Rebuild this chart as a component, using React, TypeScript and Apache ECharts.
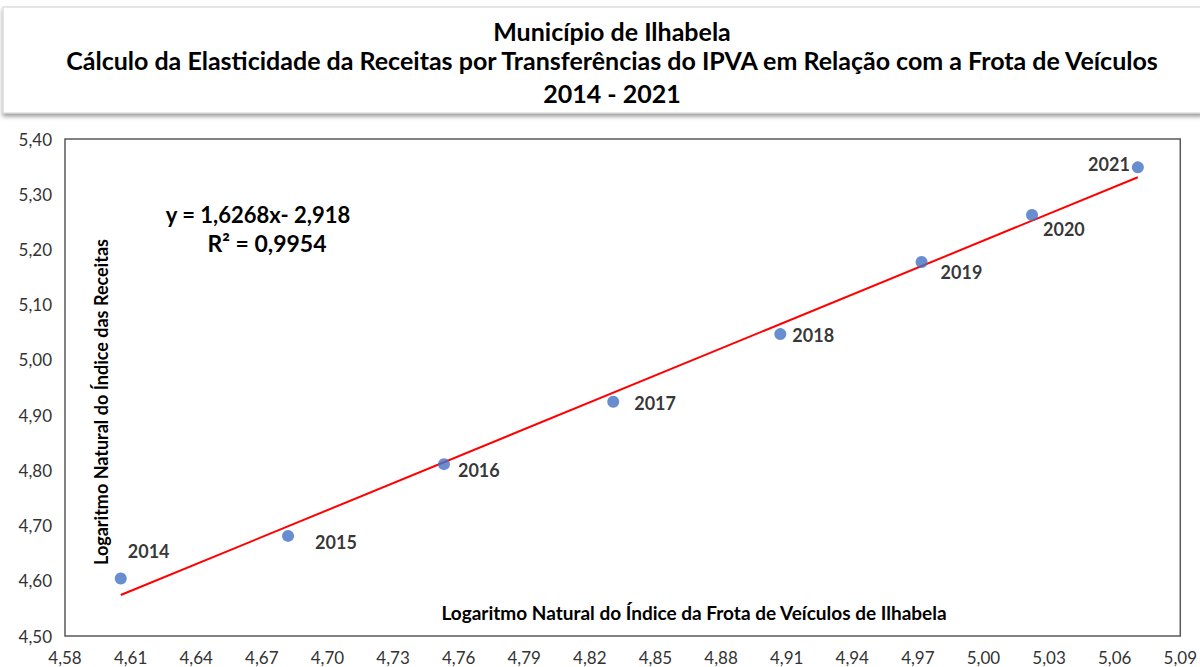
import React, { useEffect, useRef } from "react";
import * as echarts from "echarts";

const years = ["2014", "2015", "2016", "2017", "2018", "2019", "2020", "2021"];
const frotaLn = [4.6055, 4.682, 4.7533, 4.8307, 4.9071, 4.9717, 5.0222, 5.0706];
const receitaLn = [4.6042, 4.6813, 4.8112, 4.9241, 5.0467, 5.1772, 5.2623, 5.3487];
const trendX = [4.6055, 5.0706];
const trendY = [4.5742, 5.3308];
const xTicks = [4.58, 4.61, 4.64, 4.67, 4.7, 4.73, 4.76, 4.79, 4.82, 4.85, 4.88, 4.91, 4.94, 4.97, 5.0, 5.03, 5.06, 5.09];
const titleLines = [
  "Município de Ilhabela",
  "Cálculo da Elasticidade da Receitas por Transferências do IPVA em Relação com a Frota de Veículos",
  "2014 - 2021",
];
const equationText = "y = 1,6268x- 2,918";
const r2Text = "R² = 0,9954";
const xAxisTitle = "Logaritmo Natural do Índice da Frota de Veículos de Ilhabela";
const yAxisTitle = "Logaritmo Natural do Índice das Receitas";

// label placement (dx, dy from point centre; align)
const labelPlace: [number, number, string][] = [
  [7, -27, "left"],
  [27, 6, "left"],
  [14, 6, "left"],
  [21, 1, "left"],
  [12, 1, "left"],
  [19, 10, "left"],
  [11, 14, "left"],
  [-8, -3, "right"],
];

const FONT = "Lato, 'Open Sans', sans-serif";
const SYM = 12;

export default function App() {
  const ref = useRef<HTMLDivElement>(null);
  useEffect(() => {
    if (!ref.current) return;
    const chart = echarts.init(ref.current, null, { renderer: "svg" });
    const fmt = (v: number) => v.toFixed(2).replace(".", ",");
    const points = years.map((yr, i) => ({
      value: [frotaLn[i], receitaLn[i]],
      name: yr,
      label: {
        position: [SYM / 2 + labelPlace[i][0], SYM / 2 + labelPlace[i][1]],
        align: labelPlace[i][2],
        verticalAlign: "middle",
      },
    }));
    const txt = (text: string, x: number, y: number, size: number, rot = 0) => ({
      type: "text",
      x,
      y,
      rotation: rot,
      style: {
        text,
        fontFamily: FONT,
        fontWeight: "bold",
        fontSize: size,
        fill: "#000",
        align: "center",
        verticalAlign: "middle",
      },
    });
    chart.setOption({
      animation: false,
      backgroundColor: "#ffffff",
      textStyle: { fontFamily: FONT },
      title: titleLines.map((t, i) => ({
        text: t,
        left: 612,
        top: [17, 46, 79][i],
        textAlign: "center",
        padding: 0,
        textStyle: {
          fontFamily: FONT,
          fontWeight: "bold",
          fontSize: 25,
          lineHeight: 28,
          color: "#000",
        },
      })),
      graphic: [
        {
          type: "rect",
          z: -10,
          shape: { x: 3, y: 7, width: 1200, height: 106 },
          style: {
            fill: "#fff",
            stroke: "#d0d0d0",
            lineWidth: 1,
            shadowBlur: 4,
            shadowOffsetY: 3,
            shadowColor: "rgba(0,0,0,0.4)",
          },
        },
        txt(equationText, 258, 214, 22),
        txt(r2Text, 267, 243, 23),
        txt(xAxisTitle, 694, 612, 19),
        txt(yAxisTitle, 101, 402, 18, Math.PI / 2),
      ],
      grid: {
        left: 65,
        right: 14,
        top: 139,
        bottom: 31,
        show: true,
        borderColor: "#595959",
        borderWidth: 1.5,
        backgroundColor: "transparent",
      },
      xAxis: {
        type: "value",
        min: 4.58,
        max: 5.09,
        axisLine: { show: false },
        axisTick: { show: false },
        splitLine: { show: false },
        axisLabel: {
          customValues: xTicks,
          formatter: fmt,
          fontFamily: FONT,
          fontSize: 17,
          color: "#333333",
          margin: 13,
          showMaxLabel: true,
          showMinLabel: true,
        },
      },
      yAxis: {
        type: "value",
        min: 4.5,
        max: 5.4,
        interval: 0.1,
        axisLine: { show: false },
        axisTick: { show: false },
        splitLine: { show: false },
        axisLabel: {
          formatter: fmt,
          fontFamily: FONT,
          fontSize: 17,
          color: "#333333",
          margin: 13,
        },
      },
      series: [
        {
          type: "line",
          data: trendX.map((x, i) => [x, trendY[i]]),
          symbol: "none",
          lineStyle: { color: "#ff0000", width: 2 },
          z: 2,
          silent: true,
        },
        {
          type: "scatter",
          data: points,
          symbolSize: SYM,
          itemStyle: { color: "#4472c4" },
          z: 3,
          label: {
            show: true,
            formatter: (p: any) => p.name,
            fontFamily: FONT,
            fontWeight: "bold",
            fontSize: 18,
            color: "#000",
          },
        },
      ],
    });
    return () => chart.dispose();
  }, []);
  return (
    <div
      ref={ref}
      style={{ position: "absolute", left: 0, top: 0, width: 1200, height: 667 }}
    />
  );
}
